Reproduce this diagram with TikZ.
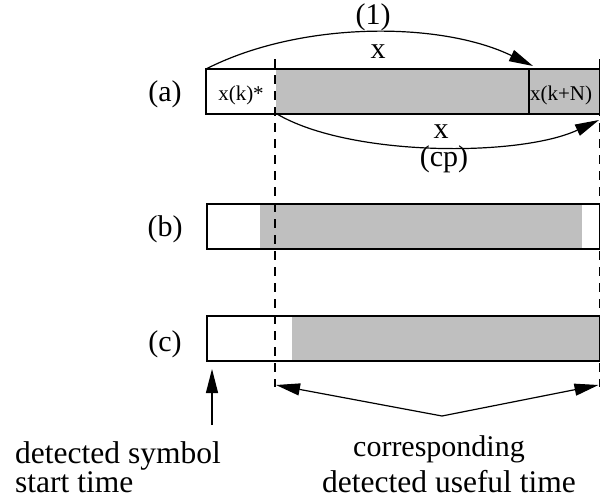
\documentclass[tikz,border=0pt]{standalone}
\usepackage{fontspec}
\setmainfont{Liberation Serif}
\usetikzlibrary{arrows.meta}
\definecolor{barfill}{RGB}{191,191,191}
\tikzset{
  outline/.style={draw=black, line width=1.3pt},
  shade/.style={fill=barfill},
  marker/.style={draw=black, line width=1.2pt, dash pattern=on 9pt off 7pt},
  pointer/.style={draw=black, line width=1.2pt, -{Triangle[length=24pt, width=12pt]}},
  bigtext/.style={font=\fontsize{30}{29}\selectfont, inner sep=0pt},
  captext/.style={font=\fontsize{31.5}{29}\selectfont, inner sep=0pt},
  smalltext/.style={font=\fontsize{21}{24}\selectfont, inner sep=0pt},
}
\begin{document}
\begin{tikzpicture}[x=1pt, y=-1pt]
\useasboundingbox (0,0) rectangle (601,503);

% bar (a): cyclic prefix x(k)* and copied tail x(k+N)
\fill[shade] (276,69) rectangle (599.5,114);
\draw[outline] (206,69) rectangle (599.5,114);
\draw[outline] (529,69) -- (529,114);
% bar (b)
\fill[shade] (260,204) rectangle (582,249);
\draw[outline] (207,204) rectangle (599.5,249);
% bar (c)
\fill[shade] (292,316) rectangle (599.5,361);
\draw[outline] (207,316) rectangle (599.5,361);

% named reference points
\coordinate (aTL) at (206,69);
\coordinate (aTip) at (533,66);
\coordinate (cpStart) at (277,114);
\coordinate (cpTip) at (599,120);
\coordinate (dL) at (275,59);
\coordinate (dLb) at (275,387);
\coordinate (dR) at (599.5,59);
\coordinate (dRb) at (599.5,387);
\coordinate (apex) at (442,416);
\coordinate (tipL) at (276,385);
\coordinate (tipR) at (598.5,385);
\coordinate (startBase) at (212,425);
\coordinate (startTip) at (212,369);

% dashed time markers
\draw[marker] (dL) -- (dLb);
\draw[marker] (dR) -- (dRb);

% correlation arcs
\draw[pointer] (aTL) .. controls (300,21) and (440,21) .. (aTip);
\draw[pointer] (cpStart) .. controls (350,157) and (520,157) .. (cpTip);

% useful-time and start-time arrows
\draw[pointer] (apex) -- (tipL);
\draw[pointer] (apex) -- (tipR);
\draw[pointer] (startBase) -- (startTip);

% labels
\node[bigtext, anchor=base] (one) at (373,25) {(1)};
\node[bigtext, anchor=base] (xTop) at (378,58) {x};
\node[bigtext, anchor=base] (xBot) at (441,138) {x};
\node[bigtext, anchor=base] (cp) at (444,166) {(cp)};
\node[smalltext, anchor=base] (xk) at (241,100) {x(k)*};
\node[smalltext, anchor=base] (xkN) at (561,100) {x(k+N)};

\node[bigtext, anchor=base] (la) at (165,101) {(a)};
\node[bigtext, anchor=base] (lb) at (165,236) {(b)};
\node[bigtext, anchor=base] (lc) at (165,351) {(c)};

\node[captext, anchor=base west] (det1) at (15,463) {detected symbol};
\node[captext, anchor=base west] (det2) at (15,492) {start time};
\node[bigtext, anchor=base] (use1) at (439,456) {corresponding};
\node[captext, anchor=base] (use2) at (449,492) {detected useful time};
\end{tikzpicture}
\end{document}
